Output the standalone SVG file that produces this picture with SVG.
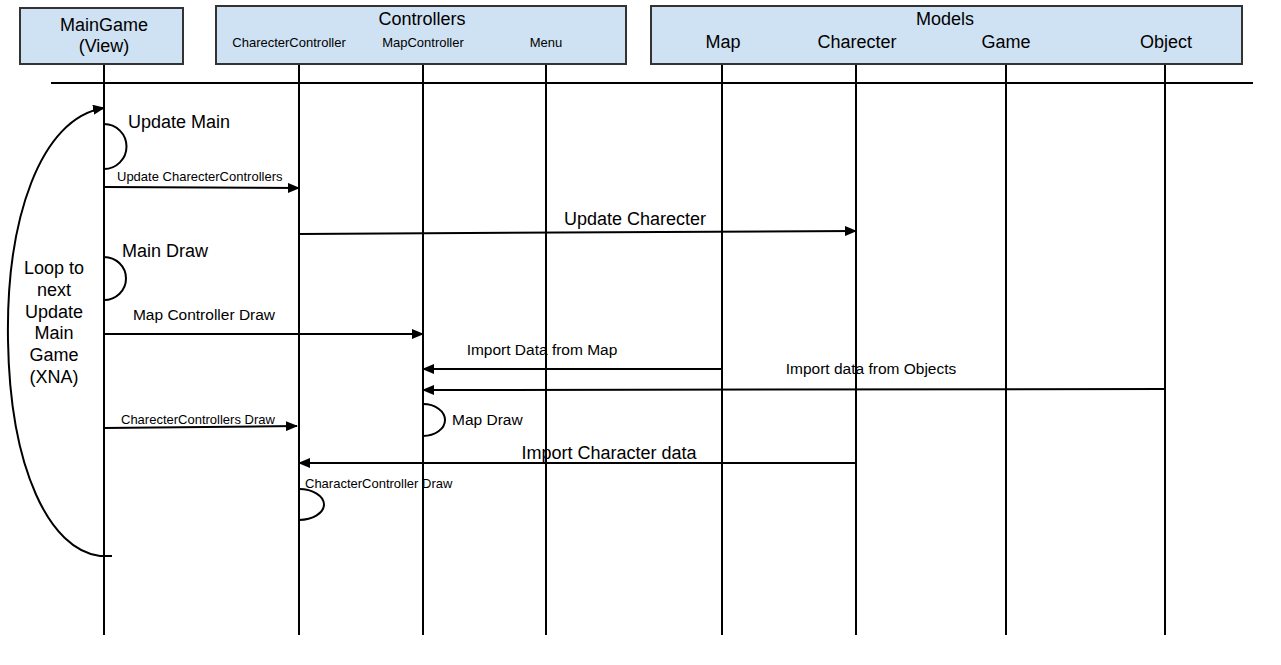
<svg xmlns="http://www.w3.org/2000/svg" width="1281" height="665" viewBox="0 0 1281 665">
<style>
.box{fill:#cfe2f3;stroke:#333;stroke-width:2}
.life{stroke:#000;stroke-width:2;fill:none}
.msg{stroke:#000;stroke-width:2;fill:none}
text{font-family:"Liberation Sans",Arial,sans-serif;fill:#000}
.big{font-size:18px}
.mid{font-size:15.5px}
.sm{font-size:13px}
</style>
<defs>
<marker id="ah" markerWidth="12" markerHeight="10" refX="11" refY="5" orient="auto" markerUnits="userSpaceOnUse">
<path d="M0,0 L12,5 L0,10 Z" fill="#000"/>
</marker>
</defs>
<rect width="1281" height="665" fill="#fff"/>
<g id="lifelines">
<line class="life" x1="104" y1="64" x2="104" y2="635"/>
<line class="life" x1="299" y1="64" x2="299" y2="635"/>
<line class="life" x1="423" y1="64" x2="423" y2="635"/>
<line class="life" x1="546" y1="64" x2="546" y2="635"/>
<line class="life" x1="722" y1="64" x2="722" y2="635"/>
<line class="life" x1="856" y1="64" x2="856" y2="635"/>
<line class="life" x1="1006" y1="64" x2="1006" y2="635"/>
<line class="life" x1="1165" y1="64" x2="1165" y2="635"/>
<line class="life" x1="51" y1="83" x2="1253" y2="83"/>
</g>
<g id="maingame">
<rect class="box" x="20" y="8" width="163" height="56"/>
<text class="big" x="104" y="31" text-anchor="middle">MainGame</text>
<text class="big" x="104" y="52" text-anchor="middle">(View)</text>
</g>
<g id="controllers">
<rect class="box" x="216" y="6" width="410" height="58"/>
<text class="big" x="422" y="25" text-anchor="middle">Controllers</text>
<text class="sm" x="289" y="47" text-anchor="middle">CharecterController</text>
<text class="sm" x="423" y="47" text-anchor="middle">MapController</text>
<text class="sm" x="546" y="47" text-anchor="middle">Menu</text>
</g>
<g id="models">
<rect class="box" x="651" y="6" width="591" height="58"/>
<text class="big" x="945" y="25" text-anchor="middle">Models</text>
<text class="big" x="723" y="48" text-anchor="middle">Map</text>
<text class="big" x="857" y="48" text-anchor="middle">Charecter</text>
<text class="big" x="1006" y="48" text-anchor="middle">Game</text>
<text class="big" x="1166" y="48" text-anchor="middle">Object</text>
</g>
<g id="connectors">
<path class="msg" d="M112,556 L100,556 C50,550 10,470 8,340 C6,220 40,118 104,108" marker-end="url(#ah)"/>
<path class="msg" d="M104,124 A22.5,22.5 0 0 1 104,169"/>
<line class="msg" x1="104" y1="187" x2="299" y2="188" marker-end="url(#ah)"/>
<line class="msg" x1="299" y1="234" x2="856" y2="231" marker-end="url(#ah)"/>
<path class="msg" d="M104,257 A22,21.5 0 0 1 104,300"/>
<line class="msg" x1="104" y1="334" x2="423" y2="334" marker-end="url(#ah)"/>
<line class="msg" x1="722" y1="369" x2="423" y2="369" marker-end="url(#ah)"/>
<line class="msg" x1="1165" y1="389" x2="423" y2="390" marker-end="url(#ah)"/>
<path class="msg" d="M423,404 A22,16 0 0 1 423,436"/>
<line class="msg" x1="104" y1="428" x2="297" y2="426" marker-end="url(#ah)"/>
<line class="msg" x1="856" y1="463" x2="299" y2="463" marker-end="url(#ah)"/>
<path class="msg" d="M299,489 A25,15.5 0 0 1 299,520"/>
</g>
<g id="labels">
<text class="big" x="128" y="128">Update Main</text>
<text class="sm" x="117" y="181">Update CharecterControllers</text>
<text class="big" x="635" y="225" text-anchor="middle">Update Charecter</text>
<text class="big" x="122" y="257">Main Draw</text>
<text class="mid" x="204" y="320" text-anchor="middle">Map Controller Draw</text>
<text class="mid" x="542" y="355" text-anchor="middle">Import Data from Map</text>
<text class="mid" x="871" y="374" text-anchor="middle">Import data from Objects</text>
<text class="mid" x="452" y="425">Map Draw</text>
<text class="sm" x="121" y="424">CharecterControllers Draw</text>
<text class="big" x="609" y="459" text-anchor="middle">Import Character data</text>
<text class="sm" x="305" y="488">CharacterController Draw</text>
<text class="big" text-anchor="middle"><tspan x="54" y="274">Loop to</tspan><tspan x="54" y="296">next</tspan><tspan x="54" y="318">Update</tspan><tspan x="54" y="339">Main</tspan><tspan x="54" y="361">Game</tspan><tspan x="54" y="383">(XNA)</tspan></text>
</g>
</svg>
